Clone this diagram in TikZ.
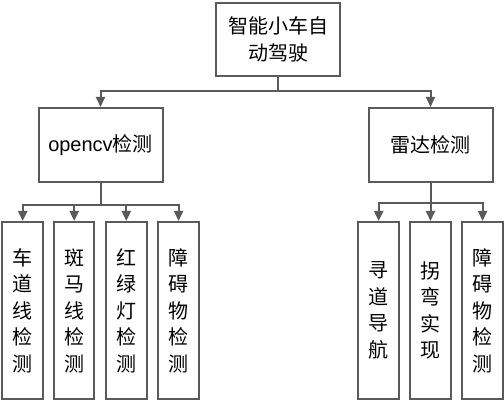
\documentclass[tikz,border=0pt]{standalone}
\usepackage{fontspec}
\setmainfont{Liberation Sans}
\newfontfamily\cjk{Noto Sans CJK SC}
\usetikzlibrary{arrows.meta}
\definecolor{linegray}{HTML}{5A5A5A}
\tikzset{
  box/.style={draw=linegray, line width=2pt, fill=white, inner sep=0pt, align=center,
    font=\fontsize{20pt}{26.5pt}\selectfont\cjk, text=black},
  bigbox/.style={box, minimum width=124pt, minimum height=74pt},
  tallbox/.style={box, minimum width=40.5pt, minimum height=177pt},
  conn/.style={draw=linegray, line width=2pt},
  arr/.style={conn, -{Triangle[length=10pt,width=9pt]}}
}
\begin{document}
\begin{tikzpicture}[x=1pt,y=-1pt]
\path[fill=white, use as bounding box] (0,0) rectangle (504,401);
\node[bigbox, minimum height=73pt] (top) at (278,39.5) {智能小车自\\动驾驶};
\node[bigbox] (cv) at (100.5,145) {{\fontspec{Liberation Sans}opencv}检测};
\node[bigbox] (radar) at (430.5,145) {雷达检测};
\node[tallbox] (c1) at (22.7,310.5) {车\\道\\线\\检\\测};
\node[tallbox] (c2) at (74.2,310.5) {斑\\马\\线\\检\\测};
\node[tallbox] (c3) at (126.3,310.5) {红\\绿\\灯\\检\\测};
\node[tallbox] (c4) at (178.6,310.5) {障\\碍\\物\\检\\测};
\node[tallbox] (d1) at (378.7,310.5) {寻\\道\\导\\航};
\node[tallbox] (d2) at (430.5,310.5) {拐\\弯\\实\\现};
\node[tallbox] (d3) at (482.6,310.5) {障\\碍\\物\\检\\测};
\coordinate (j1) at (278,91.5);
\coordinate (j2) at (100.5,205.5);
\coordinate (j3) at (430.5,202.7);
\draw[conn] (top.south) -- (j1);
\draw[arr] (j1) -| (cv.north);
\draw[arr] (j1) -| (radar.north);
\draw[conn] (cv.south) -- (j2);
\foreach \n in {c1,c2,c3,c4} \draw[arr] (j2) -| (\n.north);
\draw[conn] (radar.south) -- (j3);
\foreach \n in {d1,d2,d3} \draw[arr] (j3) -| (\n.north);
\end{tikzpicture}
\end{document}
